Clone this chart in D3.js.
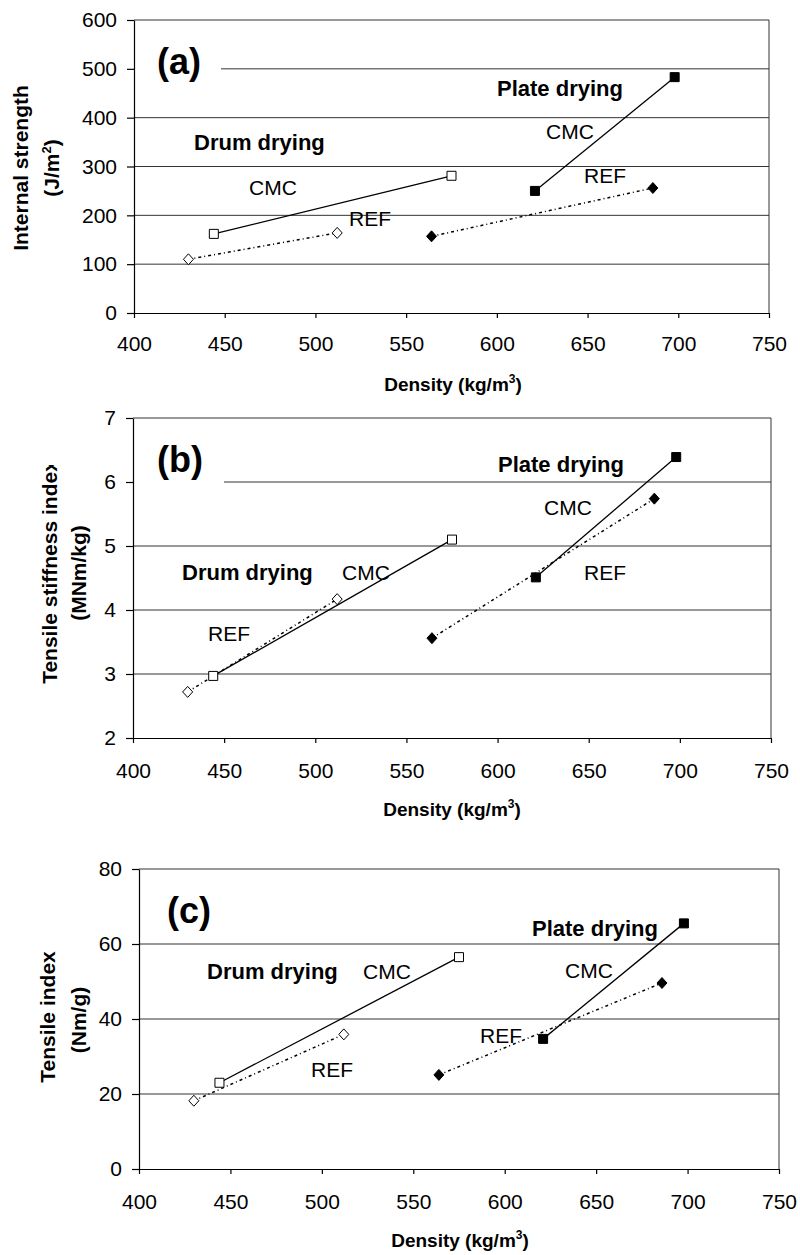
<!DOCTYPE html>
<html>
<head>
<meta charset="utf-8">
<script src="https://cdn.jsdelivr.net/npm/d3@7"></script>
<style>
  body { margin: 0; background: #fff; }
  svg text { font-family: "Liberation Sans", Arial, sans-serif; fill: #000; }
</style>
</head>
<body>
<div id="chart"></div>
<script>
// densities (kg/m3), same pulps in all three panels
var drumDensityCMC = [444, 575];
var drumDensityREF = [430, 512];
var plateDensityCMC = [621, 698];
var plateDensityREF = [564, 686];

// (a) internal strength, J/m2
var strengthDrumCMC = [162, 281];
var strengthDrumREF = [110, 164];
var strengthPlateCMC = [250, 483];
var strengthPlateREF = [157, 256];

// (b) tensile stiffness index, MNm/kg
var stiffDrumCMC = [2.97, 5.10];
var stiffDrumREF = [2.72, 4.17];
var stiffPlateCMC = [4.51, 6.39];
var stiffPlateREF = [3.56, 5.74];

// (c) tensile index, Nm/g
var tensileDrumCMC = [23.0, 56.5];
var tensileDrumREF = [18.2, 35.9];
var tensilePlateCMC = [34.7, 65.5];
var tensilePlateREF = [25.1, 49.6];

var densityTicks = [400, 450, 500, 550, 600, 650, 700, 750];
var strengthTicks = [0, 100, 200, 300, 400, 500, 600];
var stiffTicks = [2, 3, 4, 5, 6, 7];
var tensileTicks = [0, 20, 40, 60, 80];

var svg = d3.select('#chart').append('svg')
  .attr('width', 800)
  .attr('height', 1255);

function makeSeries(dCMC, vCMC, dREF, vREF, pCMC, pvCMC, pREF, pvREF) {
  return [
    {xs: dREF, ys: vREF, shape: 'diamond', fill: '#fff', dash: '3,3,1,3'},
    {xs: dCMC, ys: vCMC, shape: 'square', fill: '#fff', dash: null},
    {xs: pREF, ys: pvREF, shape: 'diamond', fill: '#000', dash: '3,3,1,3'},
    {xs: pCMC, ys: pvCMC, shape: 'square', fill: '#000', dash: null}
  ];
}

function addText(g, x, y, str, size, bold) {
  return g.append('text')
    .attr('x', x).attr('y', y)
    .style('font-size', size + 'px')
    .style('font-weight', bold ? 'bold' : 'normal')
    .text(str);
}

function densityTitle(g, cx, y) {
  var t = g.append('text')
    .attr('x', cx).attr('y', y)
    .attr('text-anchor', 'middle')
    .style('font-size', '19px')
    .style('font-weight', 'bold');
  t.append('tspan').text('Density (kg/m');
  t.append('tspan').attr('dy', -8).style('font-size', '12px').text('3');
  t.append('tspan').attr('dy', 8).text(')');
}

function drawPanel(cfg) {
  var g = svg.append('g').attr('class', 'panel');

  var x = d3.scaleLinear().domain([400, 750]).range([cfg.l, cfg.r]);
  var y = d3.scaleLinear().domain([cfg.ticks[0], cfg.ticks[cfg.ticks.length - 1]]).range([cfg.b, cfg.t]);

  // gridlines + frame
  g.append('g').attr('class', 'grid').selectAll('line')
    .data(cfg.ticks.slice(1)).enter().append('line')
    .attr('x1', cfg.l).attr('x2', cfg.r)
    .attr('y1', function(d) { return y(d); })
    .attr('y2', function(d) { return y(d); })
    .style('stroke', '#333').style('stroke-width', 1);
  g.append('line')
    .attr('x1', cfg.r).attr('x2', cfg.r)
    .attr('y1', cfg.t).attr('y2', cfg.b)
    .style('stroke', '#333');

  // white box behind the panel letter
  g.append('rect')
    .attr('x', cfg.l + 1).attr('y', cfg.mask[0])
    .attr('width', cfg.mask[1] - cfg.l - 1).attr('height', cfg.mask[2])
    .style('fill', '#fff');

  var axisY = d3.axisLeft(y).tickValues(cfg.ticks).tickFormat(d3.format('d'))
    .tickSizeInner(7).tickSizeOuter(0).tickPadding(10);
  var axisX = d3.axisBottom(x).tickValues(densityTicks).tickSizeInner(5).tickSizeOuter(0).tickPadding(cfg.xPad);

  var gy = g.append('g').attr('transform', 'translate(' + cfg.l + ',0)').call(axisY);
  var gx = g.append('g').attr('transform', 'translate(0,' + cfg.b + ')').call(axisX);
  [gy, gx].forEach(function(a) {
    a.selectAll('path, line').style('stroke', '#000').style('stroke-width', 1.2);
    a.selectAll('text').style('font-size', '21px').style('font-family', '"Liberation Sans", Arial, sans-serif');
  });

  var line = d3.line()
    .x(function(d) { return x(d[0]); })
    .y(function(d) { return y(d[1]); });

  cfg.series.forEach(function(s) {
    var pts = s.xs.map(function(v, i) { return [v, s.ys[i]]; });
    g.append('path')
      .datum(pts)
      .attr('d', line)
      .style('fill', 'none')
      .style('stroke', '#000')
      .style('stroke-width', s.dash ? 1.5 : 1.3)
      .style('stroke-dasharray', s.dash);
    g.selectAll(null).data(pts).enter().append('path')
      .attr('transform', function(d) { return 'translate(' + x(d[0]) + ',' + y(d[1]) + ')'; })
      .attr('d', s.shape === 'square' ? 'M-4.5,-4.5H4.5V4.5H-4.5Z' : 'M0,-5.5L5,0L0,5.5L-5,0Z')
      .style('fill', s.fill)
      .style('stroke', '#000')
      .style('stroke-width', 1);
  });

  // annotations
  addText(g, cfg.letter[1], cfg.letter[2], cfg.letter[0], 36, true);
  cfg.notes.forEach(function(n) { addText(g, n[1], n[2], n[0], n[3] ? 22 : 21, n[3]); });

  // y title, two lines rotated
  var yt = g.append('g');
  if (cfg.clipTop) {
    svg.append('clipPath').attr('id', 'clip-' + cfg.id)
      .append('rect').attr('x', 0).attr('y', cfg.clipTop).attr('width', 200).attr('height', 1255);
    yt.attr('clip-path', 'url(#clip-' + cfg.id + ')');
  }
  cfg.yTitle.forEach(function(tl) {
    var t = yt.append('text')
      .attr('transform', 'translate(' + tl[1] + ',' + tl[2] + ') rotate(-90)')
      .attr('text-anchor', 'middle')
      .style('font-size', '21px')
      .style('font-weight', 'bold');
    t.append('tspan').text(tl[0]);
    if (tl[3]) {
      t.append('tspan').attr('dy', -8).style('font-size', '13px').text(tl[3]);
      t.append('tspan').attr('dy', 8).text(')');
    }
  });

  densityTitle(g, cfg.xTitle[0], cfg.xTitle[1]);
}

drawPanel({
  id: 'a', l: 134, r: 769, t: 20, b: 313, ticks: strengthTicks, xPad: 18,
  series: makeSeries(drumDensityCMC, strengthDrumCMC, drumDensityREF, strengthDrumREF,
                     plateDensityCMC, strengthPlateCMC, plateDensityREF, strengthPlateREF),
  mask: [45, 221, 40],
  letter: ['(a)', 157, 74],
  notes: [['Drum drying', 194, 150, true], ['CMC', 249, 195, false], ['REF', 349, 226, false],
          ['Plate drying', 497, 96, true], ['CMC', 546, 139, false], ['REF', 584, 183, false]],
  yTitle: [['Internal strength', 28, 168], ['(J/m', 59, 168, '2']],
  xTitle: [453, 391]
});

drawPanel({
  id: 'b', l: 133, r: 771, t: 418, b: 738, ticks: stiffTicks, xPad: 20,
  series: makeSeries(drumDensityCMC, stiffDrumCMC, drumDensityREF, stiffDrumREF,
                     plateDensityCMC, stiffPlateCMC, plateDensityREF, stiffPlateREF),
  mask: [460, 224, 40],
  letter: ['(b)', 157, 472],
  notes: [['Drum drying', 182, 580, true], ['CMC', 342, 580, false], ['REF', 208, 641, false],
          ['Plate drying', 498, 472, true], ['CMC', 544, 515, false], ['REF', 584, 580, false]],
  yTitle: [['Tensile stiffness index', 57, 572], ['(MNm/kg)', 86, 573]],
  clipTop: 465,
  xTitle: [452, 816]
});

drawPanel({
  id: 'c', l: 139, r: 779, t: 869, b: 1169, ticks: tensileTicks, xPad: 20,
  series: makeSeries(drumDensityCMC, tensileDrumCMC, drumDensityREF, tensileDrumREF,
                     plateDensityCMC, tensilePlateCMC, plateDensityREF, tensilePlateREF),
  mask: [880, 140, 1],
  letter: ['(c)', 167, 923],
  notes: [['Drum drying', 207, 979, true], ['CMC', 363, 979, false], ['REF', 311, 1077, false],
          ['Plate drying', 532, 936, true], ['CMC', 565, 978, false], ['REF', 480, 1043, false]],
  yTitle: [['Tensile index', 55, 1017], ['(Nm/g)', 86, 1020]],
  xTitle: [460, 1247]
});
</script>
</body>
</html>
